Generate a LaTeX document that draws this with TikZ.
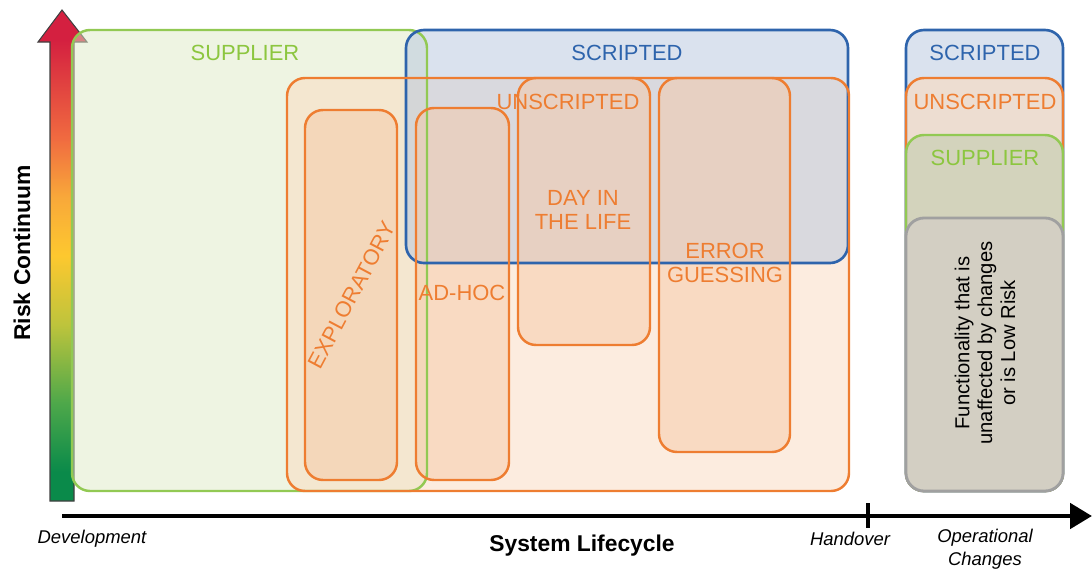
\documentclass[tikz,border=0pt]{standalone}
\usepackage{fontspec}
\setmainfont{Liberation Sans}
\usetikzlibrary{positioning,arrows.meta}
\definecolor{supgreen}{HTML}{92C953}
\definecolor{suptext}{HTML}{8CC63F}
\definecolor{supfill}{HTML}{DDE9C6}
\definecolor{scrblue}{HTML}{2E64AC}
\definecolor{scrfill}{HTML}{B5C6DE}
\definecolor{unsorange}{HTML}{EE7D31}
\definecolor{unsfill}{HTML}{FADABF}
\definecolor{smallfill}{HTML}{F6C9A6}
\definecolor{lowgray}{HTML}{A0A0A0}
\definecolor{lowfill}{HTML}{D3CFC3}
\definecolor{riskred}{HTML}{D42040}
\definecolor{riskorange}{HTML}{F06A40}
\definecolor{risklight}{HTML}{F8A83A}
\definecolor{riskyellow}{HTML}{FDC82F}
\definecolor{risklime}{HTML}{BEC43C}
\definecolor{riskmid}{HTML}{4EA84A}
\definecolor{riskgreen}{HTML}{0A8A4A}
\pgfdeclareverticalshading{risk scale}{100bp}{%
  color(0bp)=(riskgreen); color(28bp)=(riskgreen); color(35bp)=(riskmid);
  color(43bp)=(risklime); color(50bp)=(riskyellow); color(56bp)=(risklight);
  color(62bp)=(riskorange); color(72bp)=(riskred); color(100bp)=(riskred)}
\tikzset{%
  supplier fill/.style={fill=supfill,fill opacity=0.5,rounded corners=0.36cm},
  supplier line/.style={draw=supgreen,line width=1.4pt,rounded corners=0.36cm},
  scripted fill/.style={fill=scrfill,fill opacity=0.5,rounded corners=0.36cm},
  scripted line/.style={draw=scrblue,line width=1.5pt,rounded corners=0.36cm},
  unscripted fill/.style={fill=unsfill,fill opacity=0.5,rounded corners=0.36cm},
  unscripted line/.style={draw=unsorange,line width=1.4pt,rounded corners=0.36cm},
  method fill/.style={fill=smallfill,fill opacity=0.5,rounded corners=0.36cm},
  box label/.style={
    font=\fontsize{12.5}{14}\selectfont,
    align=center
  },
}

\begin{document}
\begin{tikzpicture}[x=0.02cm,y=-0.02cm,>=latex]
        \useasboundingbox (0,0) rectangle (1092,569);
        \tikzstyle{axis label}=[font=\fontsize{10.5}{13}\selectfont\itshape,align=center]
        \tikzstyle{axis title}=[font=\fontsize{13}{15}\selectfont\bfseries]

        % risk scale
        \shadedraw[shading=risk scale,draw=black!75,line width=0.6pt]
          (50,501) -- (50,42) -- (38,42) -- (62,10) -- (87,42) -- (74,42) -- (74,501) -- cycle;
        \node[axis title,rotate=90] (risk) at (22,253) {Risk Continuum};

        % development phase: fills first, outlines on top
        \fill[supplier fill] (72,30) rectangle (427,491);
        \fill[unscripted fill] (287,78) rectangle (849,491);
        \fill[scripted fill] (406,30) rectangle (848,263);
        \fill[method fill] (305,110) rectangle (397,480);
        \fill[method fill] (416,108) rectangle (509,480);
        \fill[method fill] (518,78) rectangle (650,345);
        \fill[method fill] (659,78) rectangle (790,452);

        \draw[supplier line] (72,30) rectangle (427,491);
        \draw[scripted line] (406,30) rectangle (848,263);
        \draw[unscripted line] (287,78) rectangle (849,491);
        \draw[unscripted line] (305,110) rectangle (397,480);
        \draw[unscripted line] (416,108) rectangle (509,480);
        \draw[unscripted line] (518,78) rectangle (650,345);
        \draw[unscripted line] (659,78) rectangle (790,452);

        \node[box label,text=suptext] (sup) at (245,53) {SUPPLIER};
        \node[box label,text=scrblue] (scr) at (627,53) {SCRIPTED};
        \node[box label,text=unsorange] (uns) at (568,102) {UNSCRIPTED};
        \node[box label,text=unsorange,rotate=62] (expl) at (352,295) {EXPLORATORY};
        \node[box label,text=unsorange] (adhoc) at (462,293) {AD-HOC};
        \node[box label,text=unsorange] (day) at (583,210) {DAY IN\\THE LIFE};
        \node[box label,text=unsorange] (err) at (725,263) {ERROR\\GUESSING};

        % operational changes
        \fill[scripted fill] (906,30) rectangle (1063,491);
        \draw[scripted line] (906,30) rectangle (1063,491);
        \fill[unscripted fill,fill opacity=0.6] (906,78) rectangle (1063,491);
        \draw[unscripted line] (906,78) rectangle (1063,491);
        \fill[supplier fill,fill=supfill!80!black!60!supfill,fill opacity=0.6] (906,135) rectangle (1063,491);
        \draw[supplier line] (906,135) rectangle (1063,491);
        \draw[draw=lowgray,line width=1.6pt,fill=lowfill,rounded corners=0.36cm] (906,218) rectangle (1063,491);

        \node[box label,text=scrblue] (opscr) at (985,53) {SCRIPTED};
        \node[box label,text=unsorange] (opuns) at (985,102) {UNSCRIPTED};
        \node[box label,text=suptext] (opsup) at (985,158) {SUPPLIER};
        \node[font=\fontsize{11.5}{13}\selectfont,align=center,rotate=90] (low) at (985,343)
          {Functionality that is\\unaffected by changes\\or is Low Risk};

        % lifecycle axis
        \coordinate (start) at (62,516);
        \coordinate (end) at (1092,516);
        \coordinate (hotop) at (868,503);
        \coordinate (hobot) at (868,528);
        \draw[line width=2.8pt,-{Triangle[length=0.44cm,width=0.5cm]}] (start) -- (end);
        \draw[line width=2.2pt] (hotop) -- (hobot);

        \node[axis label] (dev) at (92,539) {Development};
        \node[axis title] (life) at (582,546) {System Lifecycle};
        \node[axis label] (hand) at (850,539) {Handover};
        \node[axis label] (ops) at (985,549) {Operational\\Changes};
    \end{tikzpicture}
\end{document}
